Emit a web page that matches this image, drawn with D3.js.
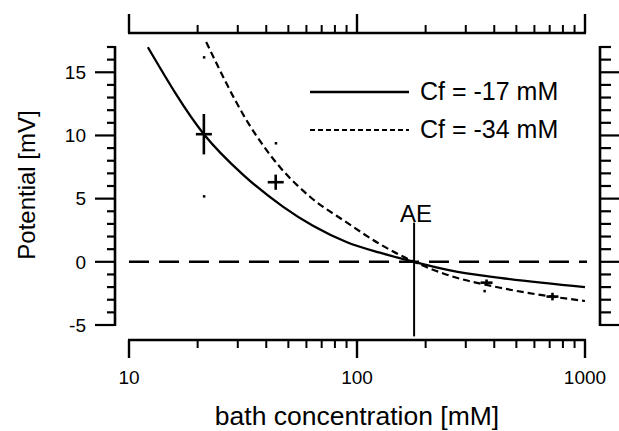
<!DOCTYPE html>
<html>
<head>
<meta charset="utf-8">
<script src="https://cdn.jsdelivr.net/npm/d3@7"></script>
<style>
  html, body { margin: 0; padding: 0; background: #fff; }
  svg { display: block; font-family: "Liberation Sans", Arial, sans-serif; }
</style>
</head>
<body>
<div id="chart"></div>
<script>
// curves (concentration in mM, potential in mV)
const solidConc = [12.1, 21.3, 31.6, 47.3, 64.1, 90.4, 126, 178, 256, 424, 1000];
const solidPot = [16.98, 10.1, 6.9, 4.37, 2.85, 1.55, 0.72, 0, -0.68, -1.27, -2.0];

const dashConc = [21.8, 33.3, 45.9, 62.2, 90.4, 126, 178, 256, 424, 1000];
const dashPot = [17.4, 11.0, 7.5, 5.15, 3.1, 1.4, 0, -1.1, -2.05, -3.1];

// measured points with error bars
const pointConc = [21.3, 44, 370, 720];
const pointPot = [10.1, 6.3, -1.65, -2.75];
const pointErr = [1.6, 0.6, 0.25, 0.3];

// stray specks in the original
const speckConc = [21.3, 21.3, 44, 362];
const speckPot = [16.2, 5.2, 9.4, -2.3];

const legendLabels = ['Cf = -17 mM', 'Cf = -34 mM'];
const yTicks = [-5, 0, 5, 10, 15];
const xTicks = [10, 100, 1000];
const aeConc = 178;
const aeRange = [-5.9, 3.1];

const width = 619, height = 431;

const x = d3.scaleLog().domain([10, 1000]).range([129, 585]);
const y = d3.scaleLinear().domain([-5, 17]).range([325, 47]);

const svg = d3.select('#chart').append('svg')
  .attr('width', width)
  .attr('height', height);

const minorY = d3.range(-5, 18, 1);
const minorX = [];
[10, 100].forEach(d => { for (let k = 2; k <= 9; k++) minorX.push(d * k); });

// draws a vertical axis line with major/minor ticks, dir = -1 left, 1 right
function vAxis(xPos, dir, majorLen, minorLen, labels) {
  const g = svg.append('g').attr('stroke', '#000');
  g.append('line')
    .attr('x1', xPos).attr('x2', xPos)
    .attr('y1', y(-5) + 1).attr('y2', y(17) - 1)
    .attr('stroke-width', 2.6);
  g.selectAll('.minor').data(minorY).enter().append('line')
    .attr('x1', xPos).attr('x2', d => xPos + dir * (yTicks.includes(d) ? majorLen : minorLen))
    .attr('y1', d => y(d)).attr('y2', d => y(d))
    .attr('stroke-width', 2.2);
  if (labels) {
    svg.append('g').selectAll('text').data(yTicks).enter().append('text')
      .attr('x', xPos - majorLen - 9)
      .attr('y', d => y(d))
      .attr('dy', '0.36em')
      .attr('text-anchor', 'end')
      .attr('font-size', 19)
      .text(d => d);
  }
}

// horizontal log axis, dir = 1 ticks down, -1 ticks up
function hAxis(yPos, dir, majorLen, minorLen, labels) {
  const g = svg.append('g').attr('stroke', '#000');
  g.append('line')
    .attr('x1', x(10) - 1).attr('x2', x(1000) + 1)
    .attr('y1', yPos).attr('y2', yPos)
    .attr('stroke-width', 2.6);
  g.selectAll('.major').data(xTicks).enter().append('line')
    .attr('x1', d => x(d)).attr('x2', d => x(d))
    .attr('y1', yPos).attr('y2', yPos + dir * majorLen)
    .attr('stroke-width', 2.4);
  g.selectAll('.minor').data(minorX).enter().append('line')
    .attr('x1', d => x(d)).attr('x2', d => x(d))
    .attr('y1', yPos).attr('y2', yPos + dir * minorLen)
    .attr('stroke-width', 2);
  if (labels) {
    svg.append('g').selectAll('text').data(xTicks).enter().append('text')
      .attr('x', d => x(d))
      .attr('y', yPos + majorLen + 26)
      .attr('text-anchor', 'middle')
      .attr('font-size', 19)
      .text(d => d);
  }
}

vAxis(115, -1, 20, 8, true);
vAxis(600, 1, 20, 11, false);
hAxis(340, 1, 18, 8, true);
hAxis(33, -1, 19, 8, false);

// zero reference line
svg.append('line')
  .attr('x1', x(10)).attr('x2', x(1000) + 2)
  .attr('y1', y(0)).attr('y2', y(0))
  .attr('stroke', '#000')
  .attr('stroke-width', 2.6)
  .attr('stroke-dasharray', '20,10');

const line = d3.line()
  .x(d => x(d[0]))
  .y(d => y(d[1]))
  .curve(d3.curveMonotoneX);

svg.append('path')
  .datum(solidConc.map((c, i) => [c, solidPot[i]]))
  .attr('fill', 'none')
  .attr('stroke', '#000')
  .attr('stroke-width', 2.3)
  .attr('d', line);

svg.append('path')
  .datum(dashConc.map((c, i) => [c, dashPot[i]]))
  .attr('fill', 'none')
  .attr('stroke', '#000')
  .attr('stroke-width', 2.2)
  .attr('stroke-dasharray', '7,4')
  .attr('d', line);

// AE marker
svg.append('line')
  .attr('x1', x(aeConc)).attr('x2', x(aeConc))
  .attr('y1', y(aeRange[1])).attr('y2', y(aeRange[0]))
  .attr('stroke', '#000')
  .attr('stroke-width', 2);
svg.append('text')
  .attr('x', x(aeConc) + 2)
  .attr('y', y(aeRange[1]) - 1)
  .attr('text-anchor', 'middle')
  .attr('font-size', 24)
  .text('AE');

// data crosses
const pts = svg.append('g').attr('stroke', '#000');
pointConc.forEach((c, i) => {
  const px = x(c), py = y(pointPot[i]);
  const arm = i < 2 ? 8 : 6;
  pts.append('line')
    .attr('x1', px - arm).attr('x2', px + arm)
    .attr('y1', py).attr('y2', py)
    .attr('stroke-width', 2.6);
  pts.append('line')
    .attr('x1', px).attr('x2', px)
    .attr('y1', y(pointPot[i] + pointErr[i])).attr('y2', y(pointPot[i] - pointErr[i]))
    .attr('stroke-width', 2.6);
});

svg.append('g').selectAll('rect').data(speckConc).enter().append('rect')
  .attr('x', d => x(d) - 1)
  .attr('y', (d, i) => y(speckPot[i]) - 1)
  .attr('width', 2.5).attr('height', 2.5)
  .attr('fill', '#000');

// legend
const legend = svg.append('g');
legendLabels.forEach((label, i) => {
  const ly = 92 + i * 38;
  legend.append('line')
    .attr('x1', 310).attr('x2', 409)
    .attr('y1', ly).attr('y2', ly)
    .attr('stroke', '#000')
    .attr('stroke-width', i === 0 ? 2.6 : 2.2)
    .attr('stroke-dasharray', i === 0 ? null : '5,3');
  legend.append('text')
    .attr('x', 420)
    .attr('y', ly + 8)
    .attr('font-size', 25)
    .text(label);
});

// axis titles
svg.append('text')
  .attr('x', 357)
  .attr('y', 425)
  .attr('text-anchor', 'middle')
  .attr('font-size', 26.5)
  .text('bath concentration [mM]');

svg.append('text')
  .attr('transform', 'translate(35,185) rotate(-90)')
  .attr('text-anchor', 'middle')
  .attr('font-size', 24)
  .text('Potential [mV]');
</script>
</body>
</html>
